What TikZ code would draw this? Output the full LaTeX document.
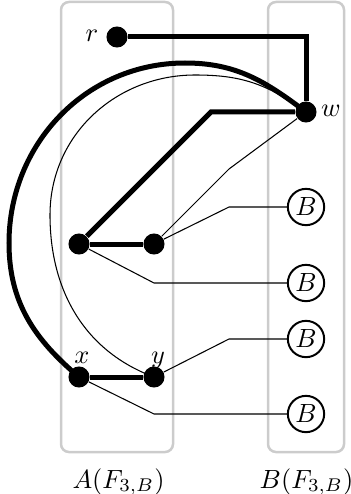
\documentclass[tikz,border=0pt]{standalone}
\begin{document}
\begin{tikzpicture}[x=0.38pt,y=-0.38pt,
  dot/.style={circle,fill=black,inner sep=0pt,minimum size=8pt},
  bnode/.style={circle,draw=black,line width=0.75pt,inner sep=0pt,minimum size=13.8pt},
  thk/.style={line width=1.9pt},
  thn/.style={line width=0.4pt},
  region/.style={draw=gray!40,line width=0.95pt,rounded corners=3pt},
  lbl/.style={anchor=base,inner sep=0pt}]
\useasboundingbox (0,0) rectangle (351,494);
\draw[region] (61,2) rectangle (173,452);
\draw[region] (268,2) rectangle (344,452);
\node[dot] (r) at (117,37) {};
\node[dot] (w) at (306,112) {};
\node[dot] (u) at (79,244) {};
\node[dot] (v) at (154,244) {};
\node[dot] (x) at (79,377) {};
\node[dot] (y) at (154,377) {};
\node[bnode] (b1) at (306,207) {$B$};
\node[bnode] (b2) at (306,283) {$B$};
\node[bnode] (b3) at (306,339) {$B$};
\node[bnode] (b4) at (306,414) {$B$};
\node[lbl] (lr) at (92,42) {$r$};
\node[lbl] (lw) at (331,117) {$w$};
\node[lbl] (lx) at (82,363) {$x$};
\node[lbl] (ly) at (158,363) {$y$};
\node[lbl] (la) at (118.5,488) {$A(F_{3,B})$};
\node[lbl] (lb) at (306.5,488) {$B(F_{3,B})$};
\coordinate (t1) at (185,63);
\coordinate (l1) at (9,243);
\coordinate (t2) at (195,75);
\coordinate (l2) at (50,215);
% thick edges
\draw[thk] (r) -| (w);
\draw[thk] (w) -- (211,112) -- (u);
\draw[thk] (u) -- (v);
\draw[thk] (x) -- (y);
\draw[thk] (w.center) .. controls (265,81) and (236,63) .. (t1)
  .. controls (86,63) and (9,144) .. (l1)
  .. controls (9,302) and (34,339) .. (x.center);
% thin edges
\draw[thn] (w.center) .. controls (266,83) and (240,75) .. (t2)
  .. controls (116,75) and (50,135) .. (l2)
  .. controls (50,290) and (84,351) .. (y.center);
\draw[thn] (w) -- (229,169) -- (v);
\draw[thn] (v) -- (229,207) -- (b1);
\draw[thn] (u) -- (154,283) -- (b2);
\draw[thn] (y) -- (229,339) -- (b3);
\draw[thn] (x) -- (154,414) -- (b4);
\end{tikzpicture}
\end{document}
